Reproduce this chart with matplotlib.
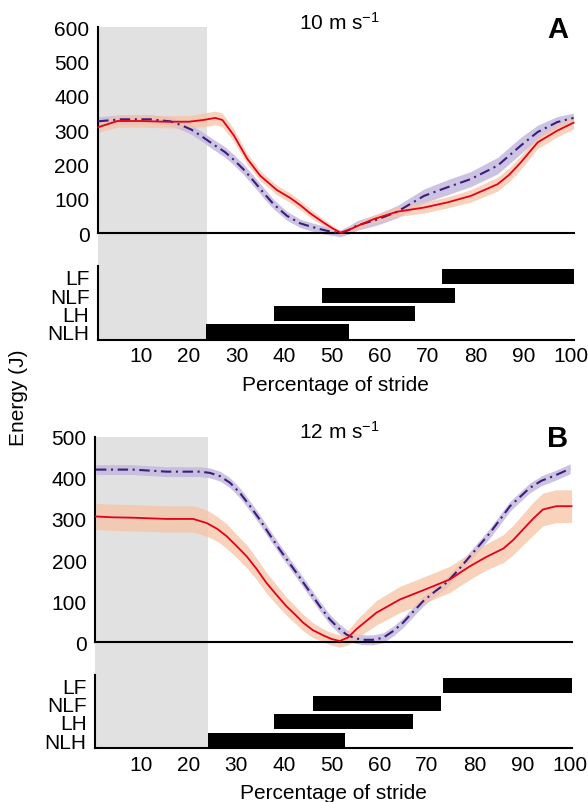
import matplotlib
matplotlib.use("Agg")
import matplotlib.pyplot as plt

plt.rcParams['font.family'] = ['Liberation Sans', 'DejaVu Sans']
plt.rcParams['mathtext.default'] = 'regular'

# ---------------- data ----------------
# Panel A, 10 m/s
red_a_x = [1, 5, 10, 15, 20, 23, 25.5, 27, 29.4, 32.2, 34.9, 38.4, 41.2, 43.3, 45.4, 48.2,
           50, 51.7, 53.5, 55.2, 58.6, 63.6, 69.2, 74.1, 79, 84.6, 87, 89.5, 93, 97.1, 100.5]
red_a_y = [309, 327, 327, 325, 325, 330, 336, 330, 285, 217, 168, 126, 103, 82, 58, 31,
           15, 2, 10, 21, 41, 63, 75, 90, 109, 143, 170, 207, 265, 299, 322]
red_a_sd = [15, 18, 18, 18, 18, 20, 20, 20, 18, 16, 14, 14, 14, 13, 12, 10,
            8, 6, 8, 10, 12, 14, 16, 16, 18, 20, 20, 20, 18, 18, 18]

purple_a_x = [1, 5.6, 11.9, 16.1, 18.2, 20.5, 22.4, 25.2, 27.5, 29.4, 31.5, 33.5, 35.6, 37.7,
              40.5, 43.3, 45.4, 47.5, 49.6, 51.7, 53.5, 55.2, 59.4, 63.6, 69.2, 74.1, 79,
              84.6, 89.5, 93, 97.1, 100.5]
purple_a_y = [326, 332, 332, 326, 316, 302, 285, 258, 237, 214, 185, 153, 118, 85,
              51, 29, 20, 12, 5, 0, 10, 23, 40, 63, 109, 134, 158,
              197, 256, 295, 324, 336]
purple_a_sd = [13, 13, 13, 13, 13, 14, 14, 15, 15, 15, 15, 15, 15, 14,
               13, 12, 12, 12, 10, 10, 12, 14, 16, 18, 20, 22, 22,
               24, 24, 20, 16, 14]

# Panel B, 12 m/s
red_b_x = [0.6, 4, 8.4, 15.4, 21, 23.8, 26, 28, 30, 32.2, 34.3, 36.3, 38.4, 40.5, 42.3, 44,
           46, 48.2, 50, 51.7, 53.5, 55.2, 57.3, 59.4, 64.3, 70.6, 74.8, 79, 82.5, 86, 88,
           90.1, 92.2, 94.3, 97.1, 100.3]
red_b_y = [306, 304, 303, 300, 300, 290, 276, 258, 235, 209, 178, 145, 116, 88, 68, 48,
           30, 17, 8, 3, 12, 32, 52, 72, 104, 133, 153, 185, 208, 228, 248,
           274, 300, 323, 331, 331]
red_b_sd = [32, 32, 32, 32, 32, 32, 30, 30, 28, 28, 26, 25, 24, 22, 21, 20,
            18, 16, 15, 15, 18, 22, 26, 30, 32, 32, 32, 32, 32, 34, 36,
            38, 40, 40, 40, 40]

purple_b_x = [0.6, 8.4, 15.4, 22.4, 24.5, 26.6, 28.7, 30.8, 32.8, 34.9, 37, 39.1, 41.2, 43.3,
              45.4, 47.5, 49.6, 51.4, 53.1, 54.8, 56.6, 58.7, 60.8, 63, 65, 67, 69.2, 71.5,
              74.1, 76.5, 79, 83.2, 87.4, 91.5, 94, 96.5, 100]
purple_b_y = [420, 420, 415, 415, 412, 404, 388, 363, 333, 299, 262, 226, 192, 158,
              123, 88, 56, 35, 19, 10, 6, 6, 11, 28, 48, 73, 100, 122,
              145, 175, 209, 266, 331, 375, 393, 404, 422]
purple_b_sd = [12] * len(purple_b_x)

# footfall bars (start, end) in percent of stride
limbs = ['NLH', 'LH', 'NLF', 'LF']
bars_a = [(23.6, 53.4), (37.7, 67.4), (47.8, 75.6), (73.0, 100.5)]
bars_b = [(24.0, 52.9), (38.0, 67.0), (46.2, 73.0), (73.4, 100.3)]

stance_end_a = 23.7
stance_end_b = 24.0
xticks = [10, 20, 30, 40, 50, 60, 70, 80, 90, 100]

RED = '#e3001b'
RED_BAND = '#f7c3a6'
PURPLE = '#3c1d7c'
PURPLE_BAND = '#c4b9de'
GREY = '#e1e1e1'
FS = 15

fig = plt.figure(figsize=(5.88, 8.03), dpi=100)


def panel(line_rect, bar_rect, xlim, ymax, yticks, stance_end,
          rx, ry, rsd, px, py, psd, bars, title, letter, title_y):
    ax = fig.add_axes(line_rect)
    axb = fig.add_axes(bar_rect)
    for a in (ax, axb):
        a.set_xlim(*xlim)
        a.spines['top'].set_visible(False)
        a.spines['right'].set_visible(False)
        a.spines['left'].set_linewidth(1.5)
        a.spines['bottom'].set_linewidth(1.5)
        a.patch.set_visible(False)

    # grey shaded region running through both axes
    gap = (line_rect[1] - bar_rect[1]) / line_rect[3]
    ax.axvspan(xlim[0], stance_end, ymin=-gap, ymax=1, color=GREY, lw=0,
               zorder=0, clip_on=False)

    ax.fill_between(px, [v - s for v, s in zip(py, psd)], [v + s for v, s in zip(py, psd)],
                    color=PURPLE_BAND, alpha=0.85, lw=0, zorder=1, clip_on=False)
    ax.fill_between(rx, [v - s for v, s in zip(ry, rsd)], [v + s for v, s in zip(ry, rsd)],
                    color=RED_BAND, alpha=0.75, lw=0, zorder=2, clip_on=False)
    ax.plot(px, py, color=PURPLE, lw=1.5, ls=(0, (5, 2.2, 1, 2.2)), zorder=3, clip_on=False)
    ax.plot(rx, ry, color=RED, lw=1.3, zorder=4, clip_on=False)

    ax.set_ylim(0, ymax)
    ax.set_yticks(yticks)
    ax.set_xticks([])
    ax.tick_params(axis='y', length=0, pad=6, labelsize=FS)

    for i, (s, e) in enumerate(bars):
        axb.barh(i, e - s, left=s, height=0.82, color='black', zorder=3)
    axb.set_ylim(-0.45, 3.6)
    axb.set_yticks(range(len(limbs)))
    axb.set_yticklabels(limbs)
    axb.set_xticks(xticks)
    axb.tick_params(axis='y', length=0, pad=6, labelsize=FS)
    axb.tick_params(axis='x', length=0, pad=4.5, labelsize=FS)
    axb.set_xlabel('Percentage of stride', fontsize=FS, labelpad=7)

    fig.text(0.5765, title_y + 0.0005, title, ha='center', va='center', fontsize=FS)
    fig.text(0.948, title_y - 0.009, letter, ha='center', va='center',
             fontsize=21, fontweight='bold')


panel([0.1662, 0.7082, 0.810, 0.2566], [0.1662, 0.5753, 0.810, 0.0922],
      (0.9, 100.6), 600, [0, 100, 200, 300, 400, 500, 600], stance_end_a,
      red_a_x, red_a_y, red_a_sd, purple_a_x, purple_a_y, purple_a_sd, bars_a,
      '10 m s$^{-1}$', 'A', 0.9714)

panel([0.1616, 0.1989, 0.8112, 0.256], [0.1616, 0.0669, 0.8112, 0.0916],
      (0.4, 100.4), 500, [0, 100, 200, 300, 400, 500], stance_end_b,
      red_b_x, red_b_y, red_b_sd, purple_b_x, purple_b_y, purple_b_sd, bars_b,
      '12 m s$^{-1}$', 'B', 0.462)

fig.text(0.031, 0.505, 'Energy (J)', rotation=90, ha='center', va='center', fontsize=FS)

fig.savefig('out.png', dpi=100)
